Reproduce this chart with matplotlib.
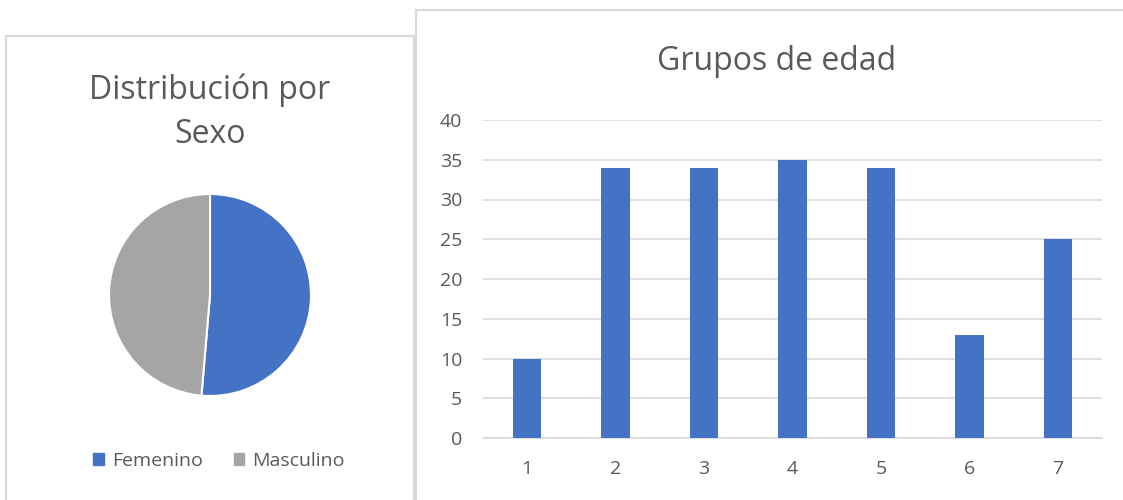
import matplotlib.pyplot as plt
from matplotlib.patches import Rectangle, Patch

# data
sexo_labels = ["Femenino", "Masculino"]
sexo_values = [95, 90]
edad_groups = ["1", "2", "3", "4", "5", "6", "7"]
edad_values = [10, 34, 34, 35, 34, 13, 25]

BLUE = "#4472C4"
GRAY = "#A5A5A5"
TEXT = "#595959"
GRID = "#D9D9D9"

plt.rcParams["font.family"] = ["Open Sans", "DejaVu Sans"]

W, H = 1123, 500
fig = plt.figure(figsize=(W / 100, H / 100), dpi=100)


def px_axes(left, top, right, bottom):
    """Add axes using pixel coordinates measured from the top-left corner."""
    return fig.add_axes([left / W, 1 - bottom / H, (right - left) / W, (bottom - top) / H])


# panel borders
for (x0, y0, x1, y1) in [(6, 36, 414, 502), (416, 10, 1125, 502)]:
    fig.patches.append(Rectangle((x0 / W, 1 - y1 / H), (x1 - x0) / W, (y1 - y0) / H,
                                 transform=fig.transFigure, fill=False,
                                 edgecolor=GRID, linewidth=1.5))

# pie chart
ax1 = px_axes(108, 193, 312, 397)
ax1.pie(sexo_values, colors=[BLUE, GRAY], startangle=90, counterclock=False,
        wedgeprops=dict(edgecolor="white", linewidth=1.5))
ax1.set_xlim(-1.01, 1.01)
ax1.set_ylim(-1.01, 1.01)
ax1.set_aspect("equal")
fig.text(210 / W, 1 - 112 / H, "Distribución por\nSexo", ha="center", va="center",
         fontsize=23, color=TEXT, linespacing=1.45)

handles = [Patch(color=BLUE), Patch(color=GRAY)]
fig.legend(handles, sexo_labels, loc="center", bbox_to_anchor=(219 / W, 1 - 461 / H),
           ncol=2, frameon=False, fontsize=14, labelcolor=TEXT,
           handlelength=0.55, handleheight=0.55, handletextpad=0.4, columnspacing=1.6)

# bar chart
ax2 = px_axes(483, 120, 1102, 438)
x = range(1, len(edad_values) + 1)
ax2.bar(x, edad_values, width=0.32, color=BLUE, zorder=3)
ax2.set_xlim(0.5, len(edad_values) + 0.5)
ax2.set_ylim(0, 40)
ax2.set_yticks(range(0, 41, 5))
ax2.set_xticks(list(x))
ax2.set_xticklabels(edad_groups)
ax2.grid(axis="y", color=GRID, linewidth=1.2, zorder=0)
for s in ["top", "right", "left"]:
    ax2.spines[s].set_visible(False)
ax2.spines["bottom"].set_color(GRID)
ax2.spines["bottom"].set_linewidth(1.2)
ax2.tick_params(axis="both", length=0, labelsize=14, labelcolor=TEXT)
ax2.tick_params(axis="y", pad=15)
ax2.tick_params(axis="x", pad=16)
fig.text(777 / W, 1 - 62 / H, "Grupos de edad", ha="center", va="center",
         fontsize=23, color=TEXT)

fig.savefig("out.png", dpi=100)
